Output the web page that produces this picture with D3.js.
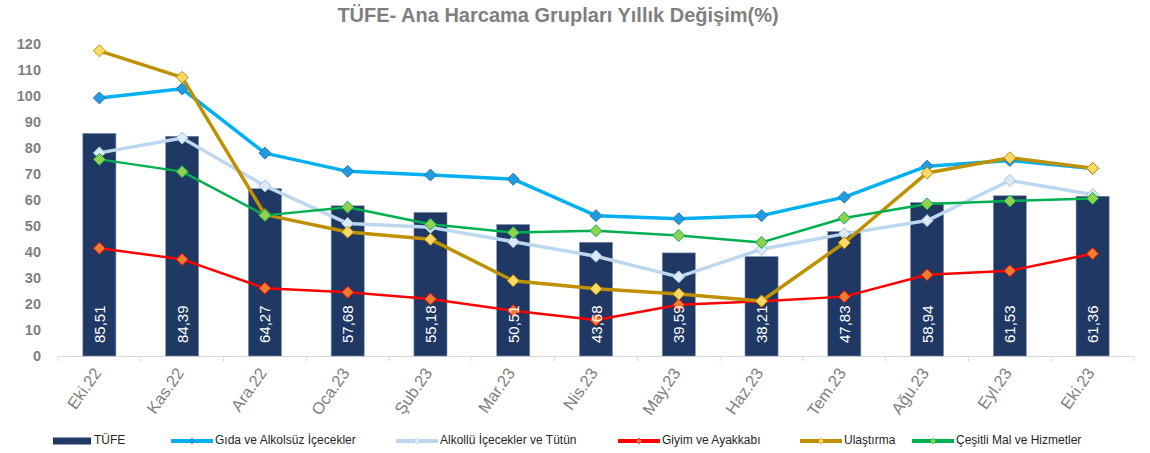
<!DOCTYPE html>
<html lang="tr">
<head>
<meta charset="UTF-8">
<title>TÜFE- Ana Harcama Grupları</title>
<style>
    body { margin: 0; background: #fff; }
    svg { display: block; font-family: "Liberation Sans", Arial, sans-serif; }
</style>
</head>
<body>
<script src="https://cdn.jsdelivr.net/npm/d3@7"></script>
<script>
    const width = 1150
    const height = 453

    const months = ['Eki.22', 'Kas.22', 'Ara.22', 'Oca.23', 'Şub.23', 'Mar.23', 'Nis.23',
        'May.23', 'Haz.23', 'Tem.23', 'Ağu.23', 'Eyl.23', 'Eki.23']
    const tufe = [85.51, 84.39, 64.27, 57.68, 55.18, 50.51, 43.68, 39.59, 38.21, 47.83, 58.94, 61.53, 61.36]
    const gida = [99.1, 102.6, 77.9, 70.9, 69.5, 67.9, 53.9, 52.7, 53.9, 61.0, 72.9, 75.1, 72.0]
    const alkollu = [78.0, 83.7, 65.3, 50.9, 49.4, 43.9, 38.3, 30.4, 41.0, 46.9, 52.0, 67.4, 62.0]
    const giyim = [41.4, 37.1, 26.0, 24.5, 21.9, 17.4, 13.8, 19.7, 21.0, 22.8, 31.2, 32.7, 39.3]
    const ulastirma = [117.2, 107.0, 54.3, 47.6, 44.8, 28.9, 25.8, 23.8, 21.1, 43.5, 70.3, 76.1, 72.1]
    const cesitli = [75.5, 70.8, 54.0, 57.1, 50.6, 47.4, 48.1, 46.3, 43.6, 53.0, 58.4, 59.5, 60.5]
    const yTicks = [0, 10, 20, 30, 40, 50, 60, 70, 80, 90, 100, 110, 120]

    // çizgi serileri: renk, işaret dolgu, işaret kenar, kalınlık
    const lineSeries = [
        { name: 'Gıda ve Alkolsüz İçecekler', values: gida, color: '#00b0f0', fill: '#1f9be0', edge: '#2e75b6', w: 3.5 },
        { name: 'Alkollü İçecekler ve Tütün', values: alkollu, color: '#bdd7ee', fill: '#deebf7', edge: '#9dc3e6', w: 3.5 },
        { name: 'Giyim ve Ayakkabı', values: giyim, color: '#ff0000', fill: '#ed7d31', edge: '#ff0000', w: 2.5 },
        { name: 'Ulaştırma', values: ulastirma, color: '#bf9000', fill: '#ffd966', edge: '#bf9000', w: 3.5 },
        { name: 'Çeşitli Mal ve Hizmetler', values: cesitli, color: '#00b050', fill: '#92d050', edge: '#00b050', w: 2.5 }
    ]

    const svg = d3.select('body').append('svg')
        .attr('width', width)
        .attr('height', height)

    const x = d3.scaleBand()
        .domain(months)
        .range([58, 1134])
        .paddingInner(0.6)
        .paddingOuter(0.3)

    const y = d3.scaleLinear()
        .domain([0, 120])
        .range([356, 43.5])

    const cx = d => x(d) + x.bandwidth() / 2

    // başlık
    svg.append('text')
        .attr('x', 558)
        .attr('y', 22)
        .attr('text-anchor', 'middle')
        .attr('font-size', 20)
        .attr('font-weight', 'bold')
        .attr('fill', '#7f7f7f')
        .text('TÜFE- Ana Harcama Grupları Yıllık Değişim(%)')

    // y ekseni
    const yAxis = svg.append('g')
        .attr('transform', 'translate(41,0)')
        .call(d3.axisLeft(y).tickValues(yTicks).tickSize(0).tickPadding(0))
    yAxis.select('.domain').remove()
    yAxis.selectAll('text')
        .attr('font-family', '"Liberation Sans", Arial, sans-serif')
        .attr('font-size', 14.5)
        .attr('font-weight', 'bold')
        .attr('fill', '#7f7f7f')

    // x ekseni
    const step = x.step()
    const xAxis = svg.append('g').attr('transform', 'translate(0,356.5)')
    xAxis.append('line')
        .attr('x1', 58).attr('x2', 1134)
        .attr('stroke', '#d9d9d9')
    xAxis.selectAll('line.tick')
        .data(d3.range(months.length + 1))
        .enter()
        .append('line')
        .attr('class', 'tick')
        .attr('x1', i => 58 + i * step)
        .attr('x2', i => 58 + i * step)
        .attr('y1', 0).attr('y2', 5)
        .attr('stroke', '#d9d9d9')
    xAxis.selectAll('text')
        .data(months)
        .enter()
        .append('text')
        .attr('transform', d => `translate(${cx(d) - 1},14) rotate(-55)`)
        .attr('text-anchor', 'end')
        .attr('dominant-baseline', 'middle')
        .attr('font-size', 16.5)
        .attr('fill', '#7f7f7f')
        .text(d => d)

    // TÜFE sütunları
    svg.append('g')
        .selectAll('rect')
        .data(tufe)
        .enter()
        .append('rect')
        .attr('x', (_, i) => x(months[i]))
        .attr('y', d => y(d))
        .attr('width', x.bandwidth())
        .attr('height', d => y(0) - y(d))
        .attr('fill', '#203864')
        .attr('stroke', '#8497b0')
        .attr('stroke-width', 0.6)

    const line = d3.line()
        .x((_, i) => cx(months[i]))
        .y(d => y(d))

    const diamond = r => `M0,${-r}L${r},0L0,${r}L${-r},0Z`

    lineSeries.forEach(s => {
        const g = svg.append('g')
        g.append('path')
            .datum(s.values)
            .attr('d', line)
            .attr('fill', 'none')
            .attr('stroke', s.color)
            .attr('stroke-width', s.w)
            .attr('stroke-linejoin', 'round')
        g.selectAll('path.m')
            .data(s.values)
            .enter()
            .append('path')
            .attr('class', 'm')
            .attr('d', diamond(6))
            .attr('transform', (d, i) => `translate(${cx(months[i])},${y(d)})`)
            .attr('fill', s.fill)
            .attr('stroke', s.edge)
            .attr('stroke-width', 1)
    })

    // sütun etiketleri
    svg.append('g')
        .selectAll('text')
        .data(tufe)
        .enter()
        .append('text')
        .attr('transform', (_, i) => `translate(${cx(months[i]) + 5.5},343) rotate(-90)`)
        .attr('font-size', 15)
        .attr('fill', '#fff')
        .text(d => d3.format('.2f')(d).replace('.', ','))

    // lejant
    const legendY = 441
    const legend = [
        { name: 'TÜFE', x: 53, type: 'bar' },
        { name: lineSeries[0].name, x: 171, s: lineSeries[0] },
        { name: lineSeries[1].name, x: 396, s: lineSeries[1] },
        { name: lineSeries[2].name, x: 618, s: lineSeries[2] },
        { name: lineSeries[3].name, x: 800, s: lineSeries[3] },
        { name: lineSeries[4].name, x: 912, s: lineSeries[4] }
    ]
    const lg = svg.append('g').selectAll('g')
        .data(legend)
        .enter()
        .append('g')
        .attr('transform', d => `translate(${d.x},${legendY})`)
    lg.filter(d => d.type === 'bar')
        .append('rect')
        .attr('x', 0).attr('y', -3.5)
        .attr('width', 38).attr('height', 7)
        .attr('fill', '#203864')
    lg.filter(d => d.s)
        .append('line')
        .attr('x1', 0).attr('x2', 42)
        .attr('stroke', d => d.s.color)
        .attr('stroke-width', 4)
    lg.filter(d => d.s)
        .append('path')
        .attr('d', diamond(3))
        .attr('transform', 'translate(21,0)')
        .attr('fill', d => d.s.fill)
        .attr('stroke', d => d.s.edge)
        .attr('stroke-width', 0.6)
    lg.append('text')
        .attr('x', d => d.type === 'bar' ? 41 : 44)
        .attr('dominant-baseline', 'middle')
        .attr('font-size', 12)
        .attr('fill', '#262626')
        .text(d => d.name)
</script>
</body>
</html>
